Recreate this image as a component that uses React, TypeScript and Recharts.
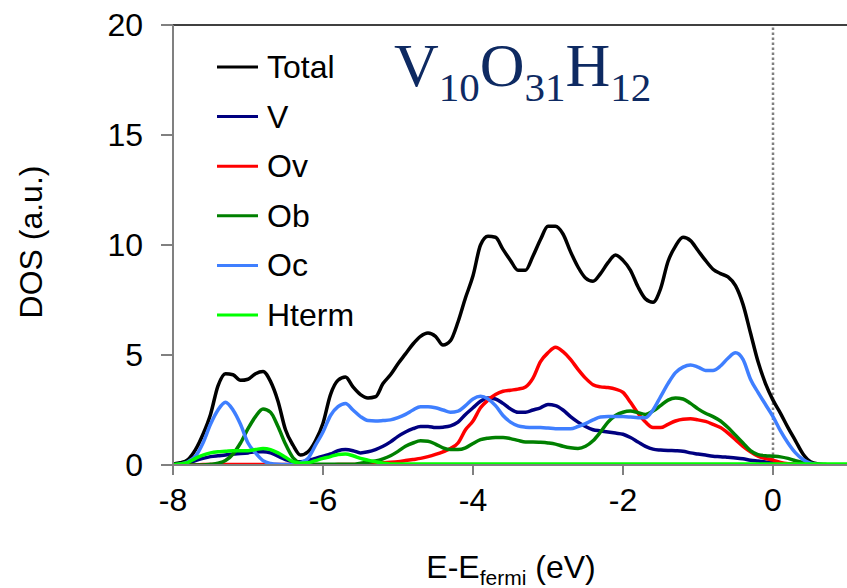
import React from 'react';
import { LineChart, Line, XAxis, YAxis, ReferenceLine, Legend } from 'recharts';

const energy = [
  -8.0, -7.9, -7.8, -7.7, -7.6, -7.5, -7.4, -7.3, -7.2, -7.1,
  -7.0, -6.9, -6.8, -6.7, -6.6, -6.5, -6.4, -6.3, -6.2, -6.1,
  -6.0, -5.9, -5.8, -5.7, -5.6, -5.5, -5.4, -5.3, -5.2, -5.1,
  -5.0, -4.9, -4.8, -4.7, -4.6, -4.5, -4.4, -4.3, -4.2, -4.1,
  -4.0, -3.9, -3.8, -3.7, -3.6, -3.5, -3.4, -3.3, -3.2, -3.1,
  -3.0, -2.9, -2.8, -2.7, -2.6, -2.5, -2.4, -2.3, -2.2, -2.1,
  -2.0, -1.9, -1.8, -1.7, -1.6, -1.5, -1.4, -1.3, -1.2, -1.1,
  -1.0, -0.9, -0.8, -0.7, -0.6, -0.5, -0.4, -0.3, -0.2, -0.1,
  0.0, 0.1, 0.2, 0.3, 0.4, 0.5, 0.6, 0.7, 0.8, 0.9,
  1.0,
];

const total = [
  0.05, 0.1, 0.25, 0.7, 1.4, 2.3, 3.6, 4.15, 4.1, 3.85,
  3.9, 4.15, 4.25, 3.8, 2.9, 1.6, 0.9, 0.45, 0.6, 1.1,
  1.9, 3.2, 3.85, 4.0, 3.55, 3.2, 3.05, 3.1, 3.7, 4.1,
  4.6, 5.05, 5.5, 5.85, 6.0, 5.85, 5.45, 5.65, 6.5, 7.6,
  8.6, 10.0, 10.4, 10.35, 9.8, 9.3, 8.85, 8.85, 9.5, 10.25,
  10.85, 10.85, 10.5, 9.7, 9.0, 8.5, 8.35, 8.7, 9.2, 9.55,
  9.3, 8.85, 8.1, 7.55, 7.4, 8.0, 9.25, 9.95, 10.35, 10.2,
  9.75, 9.3, 8.9, 8.7, 8.55, 8.15, 7.3, 6.0, 4.7, 3.7,
  2.95, 2.35, 1.7, 1.1, 0.5, 0.15, 0.05, 0.02, 0, 0,
  0,
];

const vDos = [
  0, 0.02, 0.08, 0.2, 0.3, 0.38, 0.42, 0.45, 0.5, 0.52,
  0.55, 0.6, 0.6, 0.55, 0.4, 0.25, 0.15, 0.15, 0.2, 0.3,
  0.4, 0.5, 0.65, 0.7, 0.65, 0.55, 0.6, 0.7, 0.85, 1.05,
  1.3, 1.5, 1.65, 1.75, 1.75, 1.7, 1.72, 1.78, 1.95, 2.3,
  2.6, 2.9, 3.05, 3.0, 2.8, 2.55, 2.4, 2.4, 2.5, 2.6,
  2.75, 2.7, 2.5, 2.2, 1.95, 1.75, 1.6, 1.55, 1.5, 1.45,
  1.4, 1.25, 1.05, 0.85, 0.72, 0.68, 0.66, 0.65, 0.63, 0.55,
  0.5, 0.45, 0.4, 0.38, 0.35, 0.32, 0.28, 0.22, 0.18, 0.14,
  0.1, 0.07, 0.04, 0.02, 0.01, 0, 0, 0, 0, 0,
  0,
];

const ovDos = [
  0, 0, 0, 0, 0.02, 0.02, 0.02, 0.02, 0.02, 0.02,
  0.02, 0.02, 0.02, 0.02, 0.02, 0.02, 0.02, 0.02, 0.02, 0.01,
  0.01, 0.01, 0.02, 0.02, 0.02, 0.03, 0.05, 0.07, 0.1, 0.12,
  0.15, 0.2, 0.25, 0.3, 0.38, 0.48, 0.6, 0.75, 1.0, 1.6,
  2.0, 2.6, 2.95, 3.2, 3.35, 3.4, 3.45, 3.55, 3.95, 4.7,
  5.1, 5.35, 5.15, 4.8, 4.35, 3.95, 3.65, 3.55, 3.52, 3.45,
  3.3, 2.85, 2.35, 1.95, 1.7, 1.7, 1.85, 2.0, 2.08, 2.1,
  2.05, 1.98, 1.85, 1.7, 1.45, 1.15, 0.85, 0.6, 0.4, 0.3,
  0.22, 0.12, 0.06, 0.03, 0.01, 0, 0, 0, 0, 0,
  0,
];

const obDos = [
  0, 0, 0, 0, 0, 0.03, 0.08, 0.2, 0.5, 1.0,
  1.65, 2.2, 2.55, 2.4, 1.75, 0.95, 0.33, 0.1, 0.05, 0.03,
  0.03, 0.03, 0.03, 0.03, 0.03, 0.08, 0.12, 0.18, 0.28, 0.42,
  0.62, 0.85, 1.0, 1.1, 1.08, 0.95, 0.78, 0.7, 0.7, 0.78,
  0.98, 1.15, 1.22, 1.25, 1.25, 1.2, 1.12, 1.05, 1.05, 1.03,
  1.0, 0.95, 0.85, 0.78, 0.75, 0.85, 1.1, 1.5, 1.95, 2.25,
  2.4, 2.45, 2.38, 2.3, 2.45, 2.7, 2.95, 3.05, 3.0, 2.8,
  2.55, 2.35, 2.2, 2.0, 1.7, 1.35, 1.0, 0.65, 0.47, 0.42,
  0.4, 0.37, 0.3, 0.2, 0.12, 0.05, 0.02, 0, 0, 0,
  0,
];

const ocDos = [
  0, 0.05, 0.15, 0.4, 1.0, 1.85, 2.5, 2.85, 2.5, 1.85,
  1.0, 0.55, 0.2, 0.07, 0.03, 0.02, 0.02, 0.1, 0.3, 0.9,
  1.5, 2.25, 2.65, 2.8, 2.5, 2.2, 2.02, 2.0, 2.02, 2.05,
  2.15, 2.3, 2.5, 2.65, 2.65, 2.6, 2.5, 2.4, 2.45, 2.7,
  3.0, 3.12, 3.0, 2.7, 2.25, 1.95, 1.78, 1.72, 1.7, 1.7,
  1.68, 1.65, 1.65, 1.65, 1.75, 1.88, 2.05, 2.18, 2.2, 2.2,
  2.2, 2.18, 2.15, 2.15, 2.5, 3.1, 3.7, 4.2, 4.45, 4.55,
  4.45, 4.3, 4.3, 4.5, 4.85, 5.1, 4.8, 3.9, 3.3, 2.75,
  2.2, 1.55, 1.0, 0.55, 0.25, 0.08, 0.02, 0, 0, 0,
  0,
];

const htermDos = [
  0.02, 0.05, 0.12, 0.3, 0.45, 0.55, 0.6, 0.62, 0.65, 0.65,
  0.65, 0.7, 0.75, 0.7, 0.55, 0.35, 0.15, 0.08, 0.1, 0.2,
  0.3, 0.38, 0.48, 0.5, 0.42, 0.3, 0.22, 0.15, 0.08, 0.05,
  0.04, 0.04, 0.04, 0.04, 0.04, 0.04, 0.04, 0.04, 0.04, 0.04,
  0.04, 0.04, 0.04, 0.04, 0.04, 0.04, 0.04, 0.04, 0.04, 0.04,
  0.04, 0.04, 0.04, 0.04, 0.04, 0.04, 0.04, 0.04, 0.04, 0.04,
  0.04, 0.04, 0.04, 0.04, 0.04, 0.04, 0.04, 0.04, 0.04, 0.04,
  0.04, 0.04, 0.04, 0.04, 0.04, 0.04, 0.04, 0.04, 0.04, 0.04,
  0.04, 0.04, 0.04, 0.04, 0.04, 0.04, 0.04, 0.04, 0.04, 0.04,
  0.04,
];

const seriesNames = ['Total', 'V', 'Ov', 'Ob', 'Oc', 'Hterm'];
const seriesColors = ['#000000', '#000080', '#FF0000', '#008000', '#3F7FFF', '#00FF00'];
const seriesValues = [total, vDos, ovDos, obDos, ocDos, htermDos];

const xTicks = [-8, -6, -4, -2, 0];
const yTicks = [0, 5, 10, 15, 20];

const data = energy.map((e, i) => {
  const row: Record<string, number> = { E: e };
  seriesNames.forEach((n, k) => {
    row[n] = seriesValues[k][i];
  });
  return row;
});

const SANS = '"Liberation Sans", Arial, sans-serif';
const SERIF = '"Liberation Serif", "Times New Roman", serif';

const LegendBox = () => (
  <svg width={200} height={300} style={{ display: 'block' }}>
    {seriesNames.map((n, i) => {
      const cy = 25 + i * 49.6;
      return (
        <g key={n}>
          <line x1={8} x2={49} y1={cy} y2={cy} stroke={seriesColors[i]} strokeWidth={3} />
          <text x={58} y={cy} dominantBaseline="central" fontFamily={SANS} fontSize={32} fill="#000">
            {n}
          </text>
        </g>
      );
    })}
  </svg>
);

export default function App() {
  return (
    <div style={{ position: 'absolute', left: 0, top: 0, width: 847, height: 588, background: '#fff' }}>
      <LineChart
        width={847}
        height={588}
        data={data}
        margin={{ top: 25, right: -1, bottom: 93, left: 0 }}
      >
        <XAxis
          dataKey="E"
          type="number"
          domain={[-8, 1]}
          ticks={xTicks}
          allowDataOverflow
          height={30}
          tickSize={10}
          tickMargin={13}
          axisLine={{ stroke: '#808080', strokeWidth: 2 }}
          tickLine={{ stroke: '#808080', strokeWidth: 2 }}
          tick={{ fill: '#000', fontSize: 32, fontFamily: SANS }}
        />
        <YAxis
          type="number"
          domain={[0, 20]}
          ticks={yTicks}
          allowDataOverflow
          width={173}
          tickSize={12}
          tickMargin={18}
          axisLine={{ stroke: '#808080', strokeWidth: 2 }}
          tickLine={{ stroke: '#808080', strokeWidth: 2 }}
          tick={{ fill: '#000', fontSize: 32, fontFamily: SANS }}
        />
        <ReferenceLine y={20} stroke="#000" strokeWidth={1.5} />
        <ReferenceLine x={0} stroke="#808080" strokeWidth={2.5} strokeDasharray="2.5 2.5" />
        {seriesNames.map((n, k) => (
          <Line
            key={n}
            dataKey={n}
            name={n}
            type="monotone"
            stroke={seriesColors[k]}
            strokeWidth={3.5}
            dot={false}
            activeDot={false}
            isAnimationActive={false}
          />
        ))}
        <Legend
          layout="vertical"
          align="center"
          verticalAlign="middle"
          content={() => <LegendBox />}
          wrapperStyle={{ left: 209, top: 42, width: 200, height: 300 }}
        />
      </LineChart>
      <svg
        width={847}
        height={588}
        style={{ position: 'absolute', left: 0, top: 0, pointerEvents: 'none' }}
      >
        <text x={394} y={86} fontFamily={SERIF} fontSize={62} fill="#0E2A62">
          V<tspan fontSize={41} dy={15}>10</tspan>
          <tspan fontSize={62} dy={-15}>O</tspan>
          <tspan fontSize={41} dy={15}>31</tspan>
          <tspan fontSize={62} dy={-15}>H</tspan>
          <tspan fontSize={41} dy={15}>12</tspan>
        </text>
        <text x={511} y={578} textAnchor="middle" fontFamily={SANS} fontSize={32} fill="#000">
          E-E<tspan fontSize={21} dy={7}>fermi</tspan>
          <tspan fontSize={32} dy={-7}>{' (eV)'}</tspan>
        </text>
        <text
          transform="rotate(-90)"
          x={-242}
          y={42}
          textAnchor="middle"
          fontFamily={SANS}
          fontSize={32}
          fill="#000"
        >
          DOS (a.u.)
        </text>
      </svg>
    </div>
  );
}
